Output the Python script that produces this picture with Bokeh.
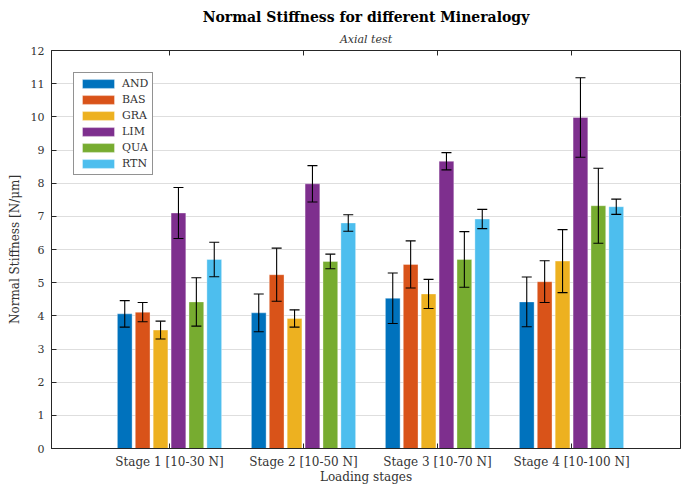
from bokeh.plotting import figure
from bokeh.models import (Range1d, FixedTicker, Legend, LegendItem,
                          Whisker, ColumnDataSource, Title)
from bokeh.embed import file_html
from bokeh.resources import INLINE
import numpy as np

stages = ["Stage 1 [10-30 N]", "Stage 2 [10-50 N]", "Stage 3 [10-70 N]", "Stage 4 [10-100 N]"]
minerals = ["AND", "BAS", "GRA", "LIM", "QUA", "RTN"]
colors = ["#0072BD", "#D95319", "#EDB120", "#7E2F8E", "#77AC30", "#4DBEEE"]

AND = [4.06, 4.09, 4.53, 4.42]
BAS = [4.11, 5.24, 5.55, 5.03]
GRA = [3.57, 3.92, 4.66, 5.65]
LIM = [7.10, 7.98, 8.66, 9.98]
QUA = [4.42, 5.64, 5.70, 7.32]
RTN = [5.70, 6.80, 6.92, 7.29]

AND_err = [0.40, 0.57, 0.76, 0.75]
BAS_err = [0.29, 0.80, 0.71, 0.63]
GRA_err = [0.27, 0.26, 0.44, 0.95]
LIM_err = [0.77, 0.55, 0.26, 1.20]
QUA_err = [0.73, 0.22, 0.84, 1.13]
RTN_err = [0.52, 0.25, 0.29, 0.23]

y_ticks = list(range(0, 13))

values = [AND, BAS, GRA, LIM, QUA, RTN]
errors = [AND_err, BAS_err, GRA_err, LIM_err, QUA_err, RTN_err]

FONT = "DejaVu Serif"
AX = "#262626"
TXT = "#333333"

YMIN, YMAX = 0, 12
p = figure(width=681, height=486, output_backend="svg", toolbar_location=None,
           x_range=Range1d(0.1194, 4.8134), y_range=Range1d(YMIN, YMAX),
           min_border_left=51, min_border_right=1, min_border_top=50, min_border_bottom=36)

p.title.text = "Normal Stiffness for different Mineralogy"
p.title.text_font = FONT
p.title.text_font_size = "14px"
p.title.text_font_style = "bold"
p.title.align = "center"
p.title.text_color = "#000000"
p.title.standoff = 2
p.title.offset = 5
sub = Title(text="Axial test", text_font=FONT, text_font_size="11px",
            text_font_style="italic", align="center", text_color=TXT, standoff=10, offset=5)
p.add_layout(sub, "above")

group_x = np.arange(1, len(stages) + 1)
spacing = 0.1336
bar_w = 0.11
items = []
for i, (m, c, v, e) in enumerate(zip(minerals, colors, values, errors)):
    xs = group_x + (i - 2.5) * spacing
    v = np.array(v); e = np.array(e)
    src = ColumnDataSource(dict(x=xs, top=v, upper=v + e, lower=v - e))
    r = p.vbar(x="x", top="top", width=bar_w, source=src, fill_color=c, line_color="white",
               line_alpha=0.35, line_width=1)
    w = Whisker(base="x", upper="upper", lower="lower", source=src, line_color="black",
                line_width=1.1, level="overlay")
    for h in (w.upper_head, w.lower_head):
        h.size = 10
        h.line_color = "black"
        h.line_width = 1.1
    p.add_layout(w)
    items.append(LegendItem(label=m, renderers=[r]))

legend = Legend(items=items, location="top_left", margin=22, padding=4, spacing=3,
                glyph_width=40, glyph_height=11, label_standoff=4,
                label_text_font=FONT, label_text_font_size="11px", label_text_color=TXT,
                label_height=11, border_line_color=AX, border_line_width=1,
                background_fill_alpha=1)
p.add_layout(legend, "center")

p.xaxis.ticker = FixedTicker(ticks=list(group_x))
p.xaxis.major_label_overrides = {int(k): s for k, s in zip(group_x, stages)}
p.yaxis.ticker = FixedTicker(ticks=y_ticks)
for ax in [p.xaxis[0], p.yaxis[0]]:
    ax.major_tick_in = 5
    ax.major_tick_out = 0
    ax.minor_tick_in = 0
    ax.minor_tick_out = 0
    ax.axis_line_color = AX
    ax.major_tick_line_color = AX
    ax.major_label_text_font = FONT
    ax.major_label_text_font_size = "11px"
    ax.major_label_text_color = TXT
    ax.axis_label_text_font = FONT
    ax.axis_label_text_font_style = "normal"
    ax.axis_label_text_font_size = "12px"
    ax.axis_label_text_color = TXT
p.xaxis.major_label_text_font_size = "12px"
p.xaxis.axis_label = "Loading stages"
p.yaxis.axis_label = "Normal Stiffness [N/\u03bcm]"
p.xaxis.major_label_standoff = 6
p.xaxis.axis_label_standoff = -2
p.yaxis.major_label_standoff = 7
p.yaxis.axis_label_standoff = 6

# inward tick marks on the top edge (box on)
tick_len = 0.0125 * (YMAX - YMIN)
p.segment(x0=group_x, y0=[YMAX] * len(group_x), x1=group_x,
          y1=[YMAX - tick_len] * len(group_x), line_color=AX, line_width=1)

p.xgrid.grid_line_color = None
p.ygrid.grid_line_color = "#dedede"
p.ygrid.grid_line_width = 1
p.outline_line_color = AX
p.background_fill_color = "white"
p.border_fill_color = "white"

open("out.html", "w").write(file_html(p, INLINE))
